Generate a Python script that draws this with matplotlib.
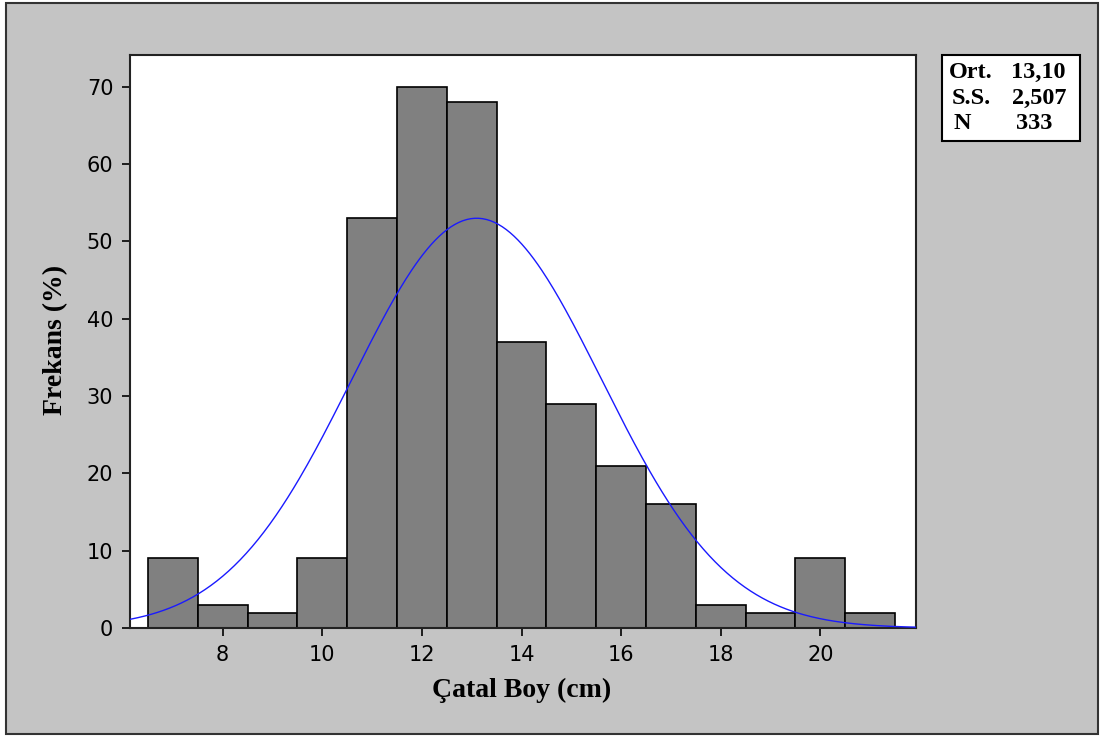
import numpy as np
import matplotlib
matplotlib.use("Agg")
import matplotlib.pyplot as plt
from matplotlib.patches import Rectangle

bin_centers = [7, 8, 9, 10, 11, 12, 13, 14, 15, 16, 17, 18, 19, 20, 21]
counts = [9, 3, 2, 9, 53, 70, 68, 37, 29, 21, 16, 3, 2, 9, 2]
mean = 13.10
sd = 2.507
n = 333
x_ticks = [8, 10, 12, 14, 16, 18, 20]
y_ticks = [0, 10, 20, 30, 40, 50, 60, 70]
stats_labels = ["Ort.", "S.S.", "N"]
stats_values = ["13,10", "2,507", "333"]

W, H = 1104, 737
fig = plt.figure(figsize=(W / 100, H / 100), dpi=100)
fig.patch.set_facecolor("white")
fig.patches.append(Rectangle((6 / W, 1 - 734 / H), (1098 - 6) / W, (734 - 3) / H,
                             transform=fig.transFigure, facecolor="#c4c4c4",
                             edgecolor="#333333", linewidth=1.5, zorder=-10))

ax = fig.add_axes([130 / W, 1 - 628 / H, (916 - 130) / W, (628 - 55) / H])
ax.set_zorder(5)
ax.set_facecolor("white")
ax.bar(bin_centers, counts, width=1.0, color="#808080", edgecolor="black", linewidth=1.2, zorder=2)

xlim = (6.14, 21.92)
xs = np.linspace(xlim[0], xlim[1], 400)
ys = n * 1.0 / (sd * np.sqrt(2 * np.pi)) * np.exp(-0.5 * ((xs - mean) / sd) ** 2)
ax.plot(xs, ys, color="#1a1aff", linewidth=1.0, zorder=3)

ax.set_xlim(*xlim)
ax.set_ylim(0, 74.1)
ax.set_xticks(x_ticks)
ax.set_yticks(y_ticks)
ax.tick_params(direction="out", length=6, width=1.2, labelsize=15, colors="black", pad=6)
for s in ax.spines.values():
    s.set_linewidth(1.5)
    s.set_color("#222222")

fig.text(522 / W, 1 - 690 / H, "Çatal Boy (cm)", fontsize=20, fontweight="bold",
         family="Liberation Serif", ha="center", va="center")
fig.text(56 / W, 1 - 340 / H, "Frekans (%)", fontsize=20, fontweight="bold",
         family="Liberation Serif", ha="center", va="center", rotation=90)

# stats box
fig.patches.append(Rectangle((942 / W, 1 - 141 / H), (1080 - 942) / W, (141 - 55) / H,
                             transform=fig.transFigure, facecolor="white",
                             edgecolor="black", linewidth=1.5, zorder=1))
rows_y = [78, 104, 129]
lab_x = [949, 952, 954]
val_x = [1011, 1012, 1016]
for lab, val, yy, lx, vx in zip(stats_labels, stats_values, rows_y, lab_x, val_x):
    fig.text(lx / W, 1 - yy / H, lab, fontsize=17.5, fontweight="bold", family="Liberation Serif",
             va="baseline", ha="left", zorder=6)
    fig.text(vx / W, 1 - yy / H, val, fontsize=17.5, fontweight="bold", family="Liberation Serif",
             va="baseline", ha="left", zorder=6)

fig.savefig("out.png", dpi=100, facecolor=fig.get_facecolor())
